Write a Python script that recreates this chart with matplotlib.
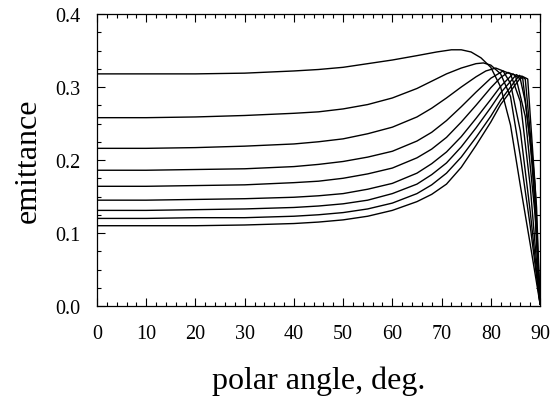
import matplotlib.pyplot as plt
import numpy as np

plt.rcParams['font.family'] = ['Liberation Serif', 'DejaVu Serif']

# (angle, emittance) points, one list per curve
ang1 = [0, 10, 20, 30, 40, 45, 50, 55, 60, 65, 69, 72, 74, 76, 78, 80, 82, 84, 86, 88, 90]
emi1 = [0.318, 0.318, 0.318, 0.319, 0.322, 0.324, 0.327, 0.332, 0.337, 0.343, 0.348, 0.351,
        0.351, 0.348, 0.340, 0.327, 0.300, 0.248, 0.165, 0.085, 0.003]

ang2 = [0, 10, 20, 30, 40, 45, 50, 55, 60, 65, 68, 71, 74, 77, 78.5, 80, 82, 84, 86, 88, 90]
emi2 = [0.258, 0.258, 0.259, 0.261, 0.264, 0.266, 0.270, 0.276, 0.285, 0.298, 0.308, 0.318,
        0.326, 0.332, 0.333, 0.330, 0.318, 0.287, 0.205, 0.110, 0.003]

ang3 = [0, 10, 20, 30, 40, 45, 50, 55, 60, 65, 68, 71, 74, 77, 79, 81, 82.5, 84, 86, 88, 90]
emi3 = [0.216, 0.216, 0.217, 0.219, 0.222, 0.225, 0.229, 0.236, 0.245, 0.259, 0.271, 0.285,
        0.300, 0.314, 0.322, 0.326, 0.322, 0.305, 0.240, 0.130, 0.003]

ang4 = [0, 10, 20, 30, 40, 45, 50, 55, 60, 65, 68, 71, 74, 77, 80, 82.5, 84, 86, 88, 90]
emi4 = [0.186, 0.186, 0.187, 0.188, 0.191, 0.194, 0.198, 0.204, 0.212, 0.226, 0.238, 0.254,
        0.273, 0.293, 0.312, 0.322, 0.318, 0.280, 0.165, 0.003]

ang5 = [0, 10, 20, 30, 40, 45, 50, 55, 60, 65, 68, 71, 74, 77, 80, 82, 83.5, 85, 87, 89, 90]
emi5 = [0.164, 0.164, 0.165, 0.166, 0.169, 0.171, 0.175, 0.181, 0.189, 0.203, 0.215, 0.231,
        0.252, 0.275, 0.299, 0.313, 0.320, 0.316, 0.260, 0.125, 0.003]

ang6 = [0, 10, 20, 30, 40, 45, 50, 55, 60, 65, 68, 71, 74, 77, 80, 82, 84.5, 86, 87, 88, 89, 90]
emi6 = [0.145, 0.145, 0.146, 0.147, 0.149, 0.151, 0.154, 0.160, 0.168, 0.182, 0.195, 0.211,
        0.232, 0.257, 0.283, 0.301, 0.318, 0.311, 0.280, 0.225, 0.140, 0.003]

ang7 = [0, 10, 20, 30, 40, 45, 50, 55, 60, 65, 68, 71, 74, 77, 80, 82, 85.2, 86.5, 88.5, 90]
emi7 = [0.131, 0.131, 0.132, 0.133, 0.135, 0.137, 0.140, 0.145, 0.154, 0.167, 0.180, 0.196,
        0.218, 0.244, 0.272, 0.292, 0.317, 0.311, 0.195, 0.003]

ang8 = [0, 10, 20, 30, 40, 45, 50, 55, 60, 65, 68, 71, 74, 77, 80, 82, 85.8, 87, 89, 90]
emi8 = [0.120, 0.120, 0.121, 0.121, 0.123, 0.125, 0.128, 0.133, 0.141, 0.154, 0.166, 0.182,
        0.204, 0.231, 0.260, 0.282, 0.316, 0.311, 0.165, 0.003]

ang9 = [0, 10, 20, 30, 40, 45, 50, 55, 60, 65, 68, 71, 74, 77, 80, 82, 86.3, 87.5, 89.3, 90]
emi9 = [0.110, 0.110, 0.110, 0.111, 0.113, 0.115, 0.118, 0.123, 0.131, 0.143, 0.153, 0.167,
        0.190, 0.220, 0.252, 0.276, 0.315, 0.311, 0.135, 0.003]

curves = [(ang1, emi1), (ang2, emi2), (ang3, emi3), (ang4, emi4), (ang5, emi5),
          (ang6, emi6), (ang7, emi7), (ang8, emi8), (ang9, emi9)]

fig = plt.figure(figsize=(5.52, 4.06), dpi=100)
ax = fig.add_axes([0.1757, 0.2438, 0.8026, 0.7192])

for a, e in curves:
    ax.plot(a, e, color='black', linewidth=1.0, solid_joinstyle='round')

ax.set_xlim(0, 90)
ax.set_ylim(0, 0.4)
ax.set_xticks(np.arange(0, 91, 10))
ax.set_xticks(np.arange(0, 91, 2), minor=True)
ax.set_yticks([0.0, 0.1, 0.2, 0.3, 0.4])
ax.set_yticks(np.arange(0, 0.401, 0.025), minor=True)
ax.set_yticklabels(['0.0', '0.1', '0.2', '0.3', '0.4'])
ax.tick_params(which='both', direction='in', top=True, right=True, labelsize=14.5, width=0.8)
ax.tick_params(axis='x', which='major', length=6, pad=13)
ax.tick_params(axis='y', which='major', length=6, pad=12)
ax.tick_params(which='minor', length=3)
for s in ax.spines.values():
    s.set_linewidth(0.9)

ax.set_xlabel('polar angle, deg.', fontsize=23, labelpad=16)
ax.set_ylabel('emittance', fontsize=23, labelpad=9)

fig.savefig('out.png', dpi=100)
